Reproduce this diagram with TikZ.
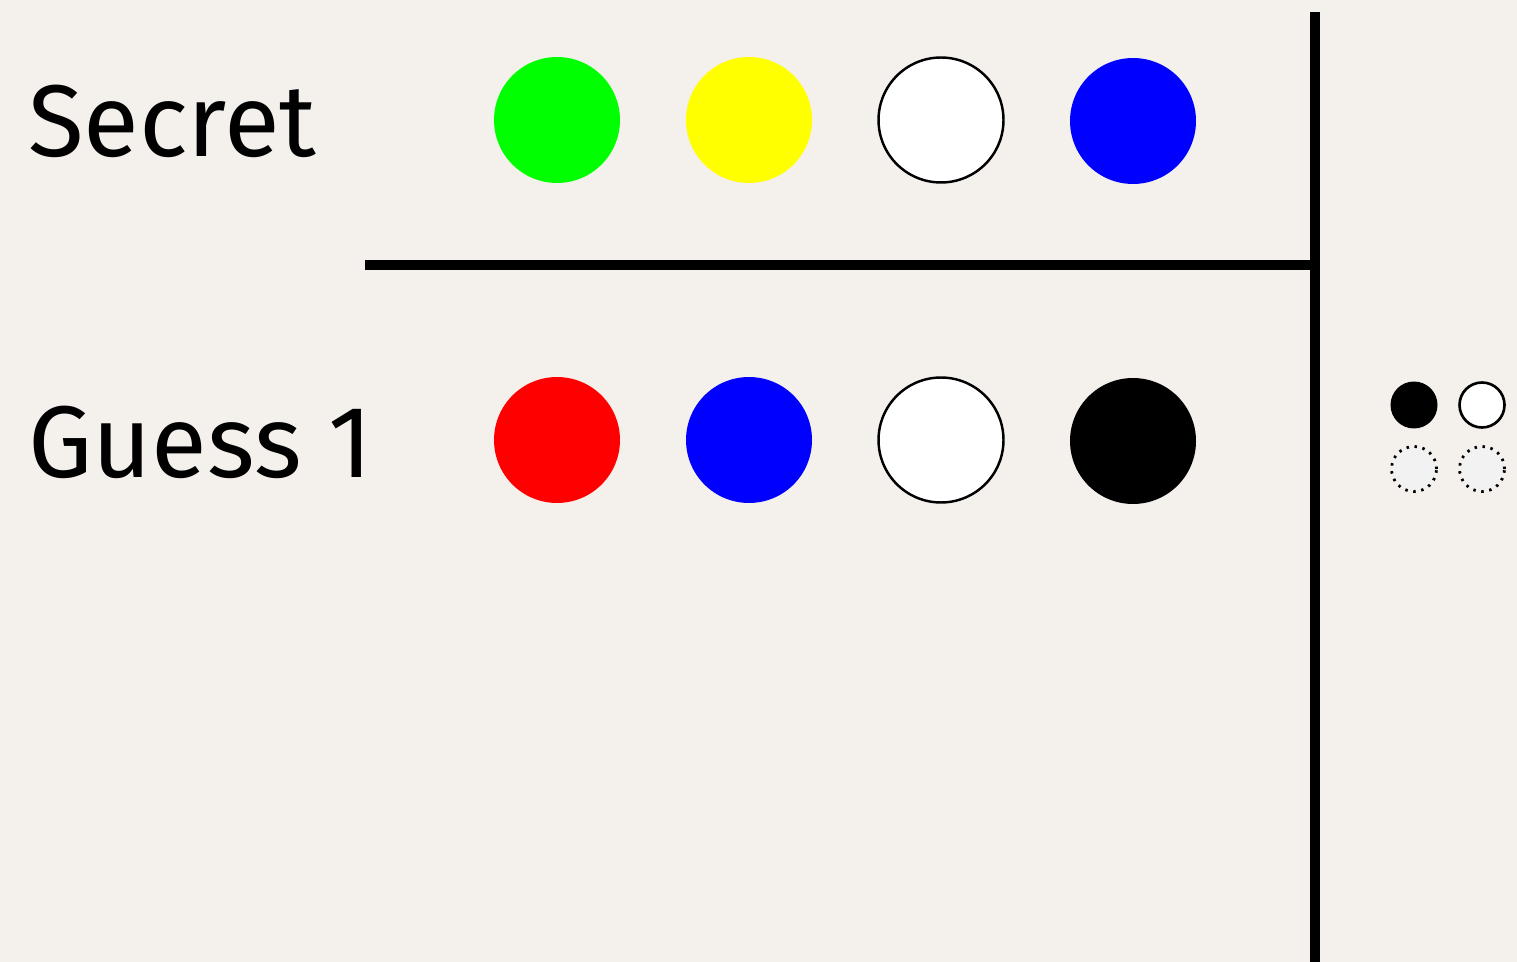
\documentclass[tikz,border=0pt]{standalone}
\usepackage{fontspec}
\setmainfont{Fira Sans}
\usepackage{tikz}
\usetikzlibrary{positioning, calc}
\usepackage{xcolor}
\definecolor{boardbg}{HTML}{F4F0EC}
\definecolor{holegray}{HTML}{F2F2F2}
\definecolor{pegblue}{HTML}{0000FF}
\definecolor{pegred}{HTML}{FF0000}
\definecolor{peggreen}{HTML}{00FF00}
\definecolor{pegyellow}{HTML}{FFFF00}

\tikzset{
  peg/.style={circle, inner sep=0pt, minimum size=2.52cm},
  whitepeg/.style={peg, fill=white, draw=black, line width=1.4pt, minimum size=2.5cm},
  keypeg/.style={circle, inner sep=0pt, minimum size=0.94cm},
  keyhole/.style={keypeg, fill=holegray, draw=black, line width=1.6pt, dash pattern=on 1.4pt off 3.2pt, minimum size=0.9cm},
  rowlabel/.style={anchor=base west, font=\fontsize{58}{58}\selectfont},
  divider/.style={line width=5.7pt}
}

\begin{document}
\begin{tikzpicture}[x=0.02cm, y=-0.02cm]
\fill[boardbg] (0,0) rectangle (1517,962);
\useasboundingbox (0,0) rectangle (1517,962);
% row labels
\node[rowlabel] (secretlbl) at (22,157) {Secret};
\node[rowlabel] (guesslbl) at (22,478) {Guess 1};
% secret code
\node[peg, fill=peggreen] (s1) at (557,120) {};
\node[peg, fill=pegyellow] (s2) at (749,120) {};
\node[whitepeg] (s3) at (941,120) {};
\node[peg, fill=pegblue] (s4) at (1133,121) {};
% guess 1
\node[peg, fill=pegred] (g1) at (557,440) {};
\node[peg, fill=pegblue] (g2) at (749,440) {};
\node[whitepeg] (g3) at (941,440) {};
\node[peg, fill=black] (g4) at (1133,441) {};
% board lines
\coordinate (bartop) at (1315,12);
\coordinate (barbot) at (1315,962);
\coordinate (rulel) at (365,265);
\coordinate (ruler) at (1315,265);
\draw[divider] (bartop) -- (barbot);
\draw[divider] (rulel) -- (ruler);
% feedback for guess 1
\node[keypeg, fill=black] (k1) at (1414,405) {};
\node[keypeg, fill=white, draw=black, line width=1.5pt, minimum size=0.9cm] (k2) at (1482,405) {};
\node[keyhole] (k3) at (1414,469) {};
\node[keyhole] (k4) at (1482,469) {};
\end{tikzpicture}
\end{document}
